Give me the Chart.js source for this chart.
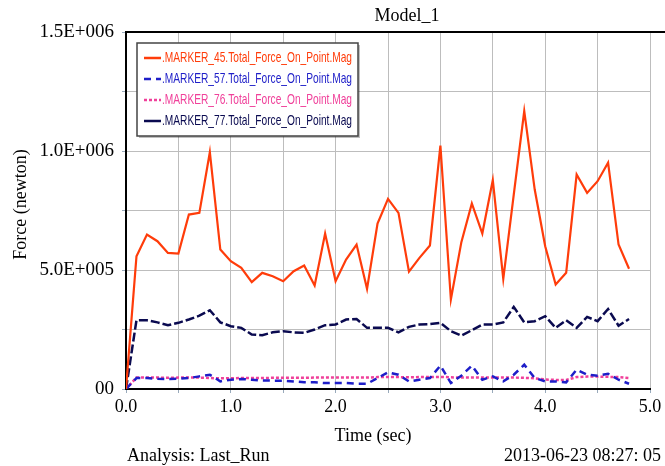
<!DOCTYPE html>
<html>
<head>
<meta charset="utf-8">
<script src="https://cdn.jsdelivr.net/npm/chart.js@4.4.1/dist/chart.umd.min.js"></script>
<style>
  html, body { margin: 0; padding: 0; background: #ffffff; }
  #wrap { width: 665px; height: 466px; position: relative; }
</style>
</head>
<body>
<div id="wrap"><canvas id="chart"></canvas></div>
<script>
// Time samples (sec)
const TIMES = [0.0, 0.1, 0.2, 0.3, 0.4, 0.5, 0.6, 0.7, 0.8, 0.9,
  1.0, 1.1, 1.2, 1.3, 1.4, 1.5, 1.6, 1.7, 1.8, 1.9,
  2.0, 2.1, 2.2, 2.3, 2.4, 2.5, 2.6, 2.7, 2.8, 2.9,
  3.0, 3.1, 3.2, 3.3, 3.4, 3.5, 3.6, 3.7, 3.8, 3.9,
  4.0, 4.1, 4.2, 4.3, 4.4, 4.5, 4.6, 4.7, 4.8];

// Force values, in thousands of newton
const MARKER_45 = [0, 558, 649, 621, 572, 569, 733, 740, 995, 586,
  537, 509, 449, 488, 474, 453, 495, 519, 435, 653,
  453, 544, 607, 421, 695, 799, 740, 493, 551, 603,
  1023, 376, 617, 780, 653, 878, 463, 817, 1168, 838,
  600, 439, 488, 901, 824, 873, 951, 607, 505];
const MARKER_57 = [0, 46, 46, 43, 42, 43, 46, 53, 60, 32,
  39, 42, 39, 36, 35, 35, 32, 28, 28, 25,
  25, 25, 22, 22, 46, 70, 60, 32, 39, 46,
  98, 25, 56, 98, 39, 53, 32, 60, 102, 46,
  32, 32, 28, 81, 60, 56, 64, 39, 22];
const MARKER_76 = [0, 48, 48, 48, 47, 48, 48, 48, 46, 45,
  45, 46, 46, 46, 47, 47, 47, 47, 48, 48,
  48, 48, 48, 48, 50, 50, 50, 49, 50, 50,
  51, 49, 48, 48, 48, 48, 48, 48, 47, 45,
  40, 38, 38, 50, 52, 52, 51, 50, 46];
const MARKER_77 = [0, 289, 289, 280, 268, 278, 292, 308, 331, 280,
  264, 257, 229, 226, 238, 243, 238, 236, 250, 268,
  271, 292, 294, 257, 257, 257, 238, 261, 271, 273,
  278, 243, 224, 247, 271, 271, 280, 345, 280, 285,
  306, 257, 289, 257, 303, 285, 336, 266, 294];

const SERIES_LABELS = ['.MARKER_45.Total_Force_On_Point.Mag', '.MARKER_57.Total_Force_On_Point.Mag',
  '.MARKER_76.Total_Force_On_Point.Mag', '.MARKER_77.Total_Force_On_Point.Mag'];

const Y_TICK_LABELS = { 0: '00', 500000: '5.0E+005', 1000000: '1.0E+006', 1500000: '1.5E+006' };
const X_TICK_LABELS = { 0: '0.0', 1: '1.0', 2: '2.0', 3: '3.0', 4: '4.0', 5: '5.0' };

const TITLE = 'Model_1';
const X_TITLE = 'Time (sec)';
const Y_TITLE = 'Force (newton)';
const FOOT_LEFT = 'Analysis: Last_Run';
const FOOT_RIGHT = '2013-06-23 08:27: 05';

const SERIF = "'Liberation Serif', 'Times New Roman', serif";
const SANS = "'Liberation Sans', Arial, sans-serif";

const STYLES = [
  { color: '#ff3c0a', dash: [], width: 2.2 },
  { color: '#1e1ec8', dash: [7, 5], width: 2.5 },
  { color: '#f0409a', dash: [3, 2], width: 2.5 },
  { color: '#0a0a50', dash: [9, 3], width: 2.5 },
];

function toPoints(vals) {
  return vals.map((v, i) => ({ x: TIMES[i], y: v * 1000 }));
}

const datasets = [MARKER_45, MARKER_57, MARKER_76, MARKER_77].map((vals, i) => ({
  label: SERIES_LABELS[i],
  data: toPoints(vals),
  borderColor: STYLES[i].color,
  borderDash: STYLES[i].dash,
  borderWidth: STYLES[i].width,
  pointRadius: 0,
  tension: 0,
  fill: false,
}));

// Frame, titles, in-plot legend and footer texts
const decorations = {
  id: 'decorations',
  afterDraw(chart) {
    const ctx = chart.ctx;
    const a = chart.chartArea;
    ctx.save();
    // top frame line
    ctx.strokeStyle = '#000000';
    ctx.lineWidth = 2;
    ctx.beginPath();
    ctx.moveTo(a.left, a.top);
    ctx.lineTo(chart.width, a.top);
    ctx.stroke();

    ctx.fillStyle = '#000000';
    ctx.textBaseline = 'alphabetic';
    ctx.font = '18px ' + SERIF;
    ctx.textAlign = 'center';
    ctx.fillText(TITLE, 407, 21);
    ctx.fillText(X_TITLE, 373, 441);

    // y title, rotated
    ctx.save();
    ctx.translate(26, (a.top + a.bottom) / 2 - 6);
    ctx.rotate(-Math.PI / 2);
    ctx.fillText(Y_TITLE, 0, 0);
    ctx.restore();

    // footer
    ctx.textAlign = 'left';
    ctx.fillText(FOOT_LEFT, 127, 461);
    ctx.textAlign = 'right';
    ctx.fillText(FOOT_RIGHT, 661, 461);

    // legend box
    const bx = 137, by = 43, bw = 221, bh = 93;
    ctx.fillStyle = 'rgba(0,0,0,0.25)';
    ctx.fillRect(bx + 2, by + 2, bw, bh);
    ctx.fillStyle = '#ffffff';
    ctx.fillRect(bx, by, bw, bh);
    ctx.strokeStyle = '#444444';
    ctx.lineWidth = 1.5;
    ctx.strokeRect(bx, by, bw, bh);

    ctx.font = '15px ' + SANS;
    ctx.textAlign = 'left';
    ctx.textBaseline = 'middle';
    chart.data.datasets.forEach((ds, i) => {
      const y = by + 15 + i * 21;
      ctx.strokeStyle = ds.borderColor;
      ctx.lineWidth = 2.5;
      ctx.setLineDash(i === 3 ? [] : ds.borderDash);
      ctx.beginPath();
      ctx.moveTo(bx + 7, y);
      ctx.lineTo(bx + 24, y);
      ctx.stroke();
      ctx.setLineDash([]);
      // squeeze the label to the narrow face of the original
      const w = ctx.measureText(ds.label).width;
      ctx.save();
      ctx.translate(bx + 25, y);
      ctx.scale(190 / w, 1);
      ctx.fillStyle = ds.borderColor;
      ctx.fillText(ds.label, 0, 0);
      ctx.restore();
    });
    ctx.restore();
  },
};

new Chart(document.getElementById('chart'), {
  type: 'line',
  data: { datasets },
  plugins: [decorations],
  options: {
    responsive: true,
    maintainAspectRatio: false,
    animation: false,
    devicePixelRatio: 1,
    layout: { padding: { top: 32, right: 15, bottom: 0, left: 0 } },
    plugins: { legend: { display: false }, tooltip: { enabled: false }, title: { display: false } },
    scales: {
      x: {
        type: 'linear',
        min: 0,
        max: 5,
        afterFit(scale) { scale.height = 77; },
        border: { display: true, color: '#000000', width: 2 },
        grid: { color: '#bdbdbd', lineWidth: 1, tickLength: 4, tickColor: '#9ab' },
        ticks: {
          stepSize: 0.5,
          autoSkip: false,
          maxRotation: 0,
          padding: 3,
          color: '#000000',
          font: { family: SERIF, size: 18 },
          callback: (v) => X_TICK_LABELS[v] !== undefined ? X_TICK_LABELS[v] : '',
        },
      },
      y: {
        min: 0,
        max: 1500000,
        afterFit(scale) { scale.width = 126; },
        border: { display: true, color: '#000000', width: 2 },
        grid: { color: '#bdbdbd', lineWidth: 1, tickLength: 4, tickColor: '#9ab' },
        ticks: {
          stepSize: 250000,
          autoSkip: false,
          padding: 8,
          color: '#000000',
          font: { family: SERIF, size: 19 },
          callback: (v) => Y_TICK_LABELS[v] !== undefined ? Y_TICK_LABELS[v] : '',
        },
      },
    },
  },
});
</script>
</body>
</html>
